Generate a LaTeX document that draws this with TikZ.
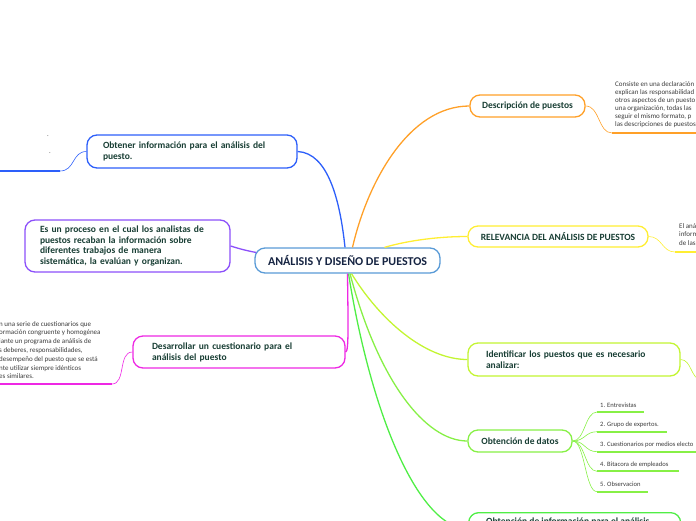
\documentclass[tikz,border=0pt]{standalone}
\usepackage{fontspec}
\setmainfont{Carlito}
\usetikzlibrary{calc}
\definecolor{tcol}{RGB}{24,62,52}
\definecolor{ccol}{RGB}{22,36,66}
\definecolor{scol}{RGB}{60,60,60}
\definecolor{cblue}{RGB}{90,155,215}
\definecolor{corange}{RGB}{255,160,40}
\definecolor{cyellow}{RGB}{255,238,50}
\definecolor{clime}{RGB}{195,245,50}
\definecolor{cgreen}{RGB}{135,240,70}
\definecolor{cgreen2}{RGB}{80,238,70}
\definecolor{cbl}{RGB}{45,95,250}
\definecolor{cpurple}{RGB}{140,80,250}
\definecolor{cmag}{RGB}{238,40,228}
\begin{document}
\begin{tikzpicture}[x=1pt,y=-1pt,
  box/.style={draw, rounded corners=10pt, line width=1.3pt, fill=white,
    font=\fontsize{9.5}{11}\selectfont\bfseries, text=tcol, inner ysep=0pt},
  small/.style={font=\fontsize{6.6}{8.2}\selectfont, text=scol, align=left, inner sep=0pt, anchor=west},
  conn/.style={line width=1.3pt},
  sub/.style={line width=0.6pt},
  uline/.style={line width=1.8pt}]
\useasboundingbox (0,0) rectangle (696,520);
\clip (0,0) rectangle (696,520);

% nodes
\node[box, draw=cblue, text=ccol, font=\fontsize{12}{14}\selectfont\bfseries,
  minimum width=185pt, minimum height=25pt] (central) at (347.5,260.5) {ANÁLISIS Y DISEÑO DE PUESTOS};
\node[box, draw=corange, minimum width=115pt, minimum height=22pt] (desc) at (527.5,106) {Descripción de puestos};
\node[box, draw=cyellow, minimum width=180pt, minimum height=21pt] (rel) at (558,236.5) {RELEVANCIA DEL ANÁLISIS DE PUESTOS};
\node[box, draw=clime, minimum height=33pt, inner xsep=18pt, text width=176pt, align=left] (ident) at (574,359.5)
  {Identificar los puestos que es necesario\\analizar:};
\node[box, draw=cgreen, minimum width=104pt, minimum height=22pt] (datos) at (520,441) {Obtención de datos};
\node[box, draw=cgreen2, minimum width=212pt, minimum height=33pt, anchor=north west, inner xsep=18pt] (obtinf) at (468,512) {};
\node[anchor=base west, inner sep=0pt, font=\fontsize{9.5}{11}\selectfont\bfseries, text=tcol] (obtinftext) at (486,524)
  {Obtención de información para el análisis};
\node[box, draw=cbl, minimum height=33pt, inner xsep=16pt, text width=178pt, align=left] (obtener) at (192,151.5)
  {Obtener información  para el análisis del\\puesto.};
\node[box, draw=cpurple, minimum height=52pt, inner xsep=15pt, text width=175pt, align=left,
  font=\fontsize{9.5}{10.7}\selectfont\bfseries] (proceso) at (127.5,246)
  {Es un proceso en el cual los analistas de\\puestos recaban la información sobre\\diferentes trabajos de manera\\sistemática, la evalúan y organizan.};
\node[box, draw=cmag, minimum height=32pt, inner xsep=19pt, text width=174pt, align=left] (desar) at (239,352)
  {Desarrollar un cuestionario para el\\análisis del puesto};

% main connectors
\coordinate (sb) at ($(central.north)+(-2.5,0)$);
\coordinate (so) at ($(central.north)+(5,0)$);
\coordinate (sy) at ($(central.north)+(37,0)$);
\coordinate (s1) at ($(central.south)+(4,0)$);
\coordinate (s2) at ($(central.south)+(2.5,0)$);
\coordinate (s3) at ($(central.south)+(1,0)$);
\coordinate (sm) at ($(central.south)+(0,0)$);
\coordinate (sp) at ($(central.west)+(2,-8)$);
\draw[conn, cbl] (sb) .. controls (340,200) and (328,153) .. (obtener.east);
\draw[conn, corange] (so) .. controls (368,180) and (410,106) .. (desc.west);
\draw[conn, cyellow] (sy) .. controls (410,240) and (440,236.5) .. (rel.west);
\draw[conn, clime] (s1) .. controls (380,320) and (425,359.5) .. (ident.west);
\draw[conn, cgreen] (s2) .. controls (378,380) and (425,441) .. (datos.west);
\draw[conn, cgreen2] (s3) .. controls (372,420) and (420,528) .. (obtinf.west);
\draw[conn, cmag] (sm) .. controls (348,320) and (349,352) .. (desar.east);
\draw[conn, cpurple] (proceso.east) .. controls (240,249) and (248,251) .. (sp);

% right side subtopics
\coordinate (du) at (612,133);
\coordinate (de) at (700,133);
\draw[sub, corange] (desc.east) .. controls (600,106) and (598,133) .. (du);
\draw[uline, corange] (du) -- (de);
\node[small, anchor=north west, font=\fontsize{7}{8.1}\selectfont] (desctext) at (615,81) {Consiste en una declaración\\explican las responsabilidad\\otros aspectos de un puesto\\una organización, todas las\\seguir el mismo formato, p\\las descripciones de puestos};

\coordinate (ru) at (675,252);
\coordinate (re) at (700,252);
\draw[sub, cyellow] (rel.east) .. controls (662,236.5) and (662,252) .. (ru);
\draw[uline, cyellow] (ru) -- (re);
\node[small, anchor=north west, font=\fontsize{7}{8.8}\selectfont] (reltext) at (679,223) {El aná\\inform\\de las};

\coordinate (iu) at (702,381);
\draw[sub, clime] (ident.east) .. controls (692,360) and (690,378) .. (iu);

% datos children
\foreach \n/\y/\xe/\t in {1/412/644/{1. Entrevistas},2/431.7/667/{2. Grupo de expertos.},3/451.7/700/{3. Cuestionarios por medios electo},4/471.3/679/{4. Bitacora de empleados},5/491.7/648/{5. Observacion}}{
  \coordinate (ds\n) at (597,\y);
  \coordinate (de\n) at (\xe,\y);
  \draw[sub, cgreen] (datos.east) .. controls (585,441) and (585,\y) .. (ds\n);
  \draw[uline, cgreen] (ds\n) -- (de\n);
  \node[small, anchor=base west] (dt\n) at (600,\y-5) {\t};
}

% left side subtopics
\coordinate (ou) at (60,171);
\coordinate (oe) at (-5,171);
\draw[sub, cbl] (obtener.west) .. controls (72,151.5) and (75,171) .. (ou);
\draw[uline, cbl] (ou) -- (oe);
\node[small, anchor=center] (dot1) at (48,136) {.};
\node[small, anchor=center] (dot2) at (50,153) {.};

\coordinate (mu) at (112,384);
\coordinate (me) at (-5,384);
\draw[sub, cmag] (desar.west) .. controls (118,352) and (126,384) .. (mu);
\draw[uline, cmag] (mu) -- (me);
\node[small, anchor=north west, font=\fontsize{7}{8.8}\selectfont] (desartext) at (-1,321) {n una serie de cuestionarios que\\ormación congruente y homogénea\\iante un programa de análisis de\\s deberes, responsabilidades,\\desempeño del puesto que se está\\nte utilizar siempre idénticos\\es similares.};
\end{tikzpicture}
\end{document}
